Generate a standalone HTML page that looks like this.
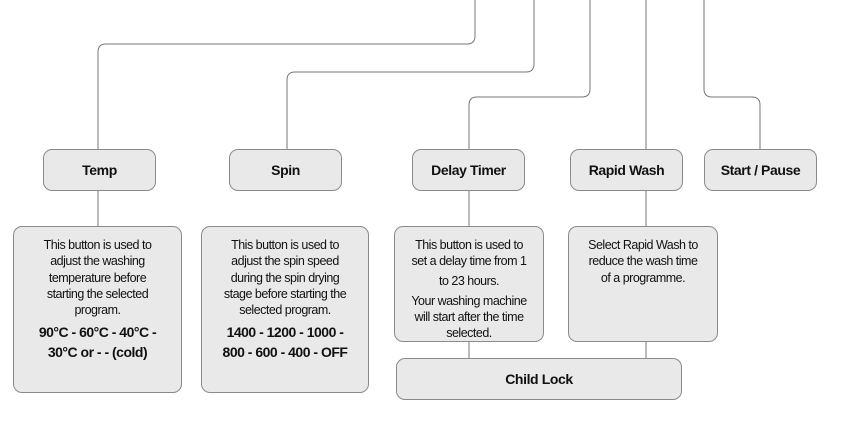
<!DOCTYPE html>
<html><head><meta charset="utf-8"><style>
body{margin:0;width:842px;height:421px;background:#fff;position:relative;overflow:hidden;font-family:"Liberation Sans",sans-serif;color:#111}
.b{position:absolute;box-sizing:border-box;background:#e9e9e9;border:1px solid #8a8a8a;border-radius:9px;text-align:center}
.h{height:42px;top:149px;width:113px;font-weight:bold;font-size:14px;line-height:40px;letter-spacing:-0.4px}
.d{font-size:12.5px;line-height:16.3px;letter-spacing:-0.5px;padding-top:10px}
.d b{display:block;font-size:14px;line-height:20px;margin-top:4px;letter-spacing:-0.5px}
svg{position:absolute;left:0;top:0}
</style></head><body>
<svg width="842" height="421" fill="none" stroke="#777" stroke-width="1">
<path d="M98 226V52q0-8 8-8h361q8 0 8-8V0"/>
<path d="M287 149V80q0-8 8-8h231q8 0 8-8V0"/>
<path d="M469 358V105q0-8 8-8h105q8 0 8-8V0"/>
<path d="M646 358V0"/>
<path d="M760 150V105q0-8-8-8h-40q-8 0-8-8V0"/>
</svg>
<div class="b h" style="left:43px">Temp</div>
<div class="b h" style="left:229px">Spin</div>
<div class="b h" style="left:412px">Delay Timer</div>
<div class="b h" style="left:570px">Rapid Wash</div>
<div class="b h" style="left:704px">Start / Pause</div>
<div class="b d" style="left:13px;top:226px;width:169px;height:167px">This button is used to<br>adjust the washing<br>temperature before<br>starting the selected<br>program.<b>90°C - 60°C - 40°C -<br>30°C or - - (cold)</b></div>
<div class="b d" style="left:201px;top:226px;width:168px;height:167px">This button is used to<br>adjust the spin speed<br>during the spin drying<br>stage before starting the<br>selected program.<b>1400 - 1200 - 1000 -<br>800 - 600 - 400 - OFF</b></div>
<div class="b d" style="left:394px;top:226px;width:150px;height:116px;padding-top:10px">This button is used to<br>set a delay time from 1<br><span style="display:block;margin-top:3px">to 23 hours.</span><span style="display:block;margin-top:4px">Your washing machine<br>will start after the time<br>selected.</span></div>
<div class="b d" style="left:568px;top:226px;width:150px;height:116px">Select Rapid Wash to<br>reduce the wash time<br>of a programme.</div>
<div class="b h" style="left:396px;top:358px;width:286px;height:42px">Child Lock</div>
</body></html>
